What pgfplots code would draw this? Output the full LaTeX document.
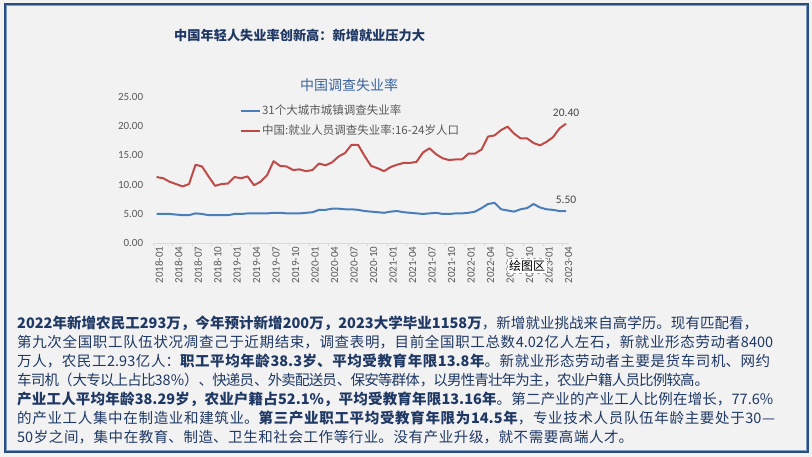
\documentclass[border=0pt]{standalone}
\usepackage{fontspec}
\usepackage{pgfplots}
\pgfplotsset{compat=1.18}
\setmainfont{Noto Sans CJK SC}
\newfontfamily\cjk{Noto Sans CJK SC}
\newfontfamily\carlito{Carlito}
\XeTeXlinebreaklocale "zh"
\XeTeXlinebreakskip=0pt plus 2pt minus 1pt
\definecolor{bgc}{HTML}{F2F2F2}
\definecolor{frame}{HTML}{2B4C7E}
\definecolor{frameL}{HTML}{7F9CC4}
\definecolor{ttl}{HTML}{1F3864}
\definecolor{ctl}{HTML}{3B64A0}
\definecolor{txt}{HTML}{1F3864}
\definecolor{lab}{HTML}{595959}
\definecolor{axc}{HTML}{D9D9D9}
\definecolor{bl}{HTML}{4A7EBB}
\definecolor{rd}{HTML}{BE4B48}
\newcommand{\jline}[2]{\parbox[b]{#1pt}{\tolerance=10000\parfillskip=0pt\relax #2}}
\begin{document}
\begin{tikzpicture}[x=1pt,y=1pt]
\useasboundingbox (0,0) rectangle (812,457);
\fill[bgc] (0,0) rectangle (812,457);
\draw[frame, line width=2.6pt] (4.8,4.8) rectangle (807.8,453);
\draw[frameL, line width=0.6pt] (6.6,6.6) rectangle (806,451.2);
% titles
\node[anchor=west, inner sep=0pt, text=ttl, font=\cjk\bfseries\fontsize{13.2}{15}\selectfont] at (174,422) {中国年轻人失业率创新高：新增就业压力大};
\node[anchor=west, inner sep=0pt, text=ctl, font=\cjk\fontsize{14}{16}\selectfont] at (300,372) {中国调查失业率};
\begin{axis}[
  at={(153.3pt,213.7pt)}, anchor=south west,
  scale only axis, width=416pt, height=146.6pt,
  xmin=-0.5, xmax=63.5, ymin=0, ymax=25,
  axis x line*=bottom, axis y line*=left,
  x axis line style={draw=axc, line width=0.8pt},
  y axis line style={draw=none},
  tick align=outside,
  major tick length=3pt, minor tick length=3pt,
  ytick={0,5,10,15,20,25},
  ytick style={draw=none},
  yticklabel={\pgfmathprintnumber[fixed,fixed zerofill,precision=2]{\tick}},
  yticklabel style={inner sep=0pt, xshift=-7pt, text=lab, font=\carlito\fontsize{11}{13}\selectfont},
  xtick={0,3,...,63},
  xticklabels={2018-01,2018-04,2018-07,2018-10,2019-01,2019-04,2019-07,2019-10,2020-01,2020-04,2020-07,2020-10,2021-01,2021-04,2021-07,2021-10,2022-01,2022-04,2022-07,2022-10,2023-01,2023-04},
  major x tick style={draw=none},
  minor xtick={-0.5,2.5,...,62.5},
  minor x tick style={draw=axc, line width=0.8pt},
  xticklabel style={rotate=90, anchor=east, inner sep=0pt, yshift=-2.6pt, text=lab, font=\carlito\fontsize{11}{13}\selectfont},
  /pgf/number format/assume math mode=true,
  legend style={at={(0.207,0.955)}, anchor=north west, draw=none, fill=none, inner sep=0pt,
    row sep=6pt, text=lab, font=\cjk\fontsize{11.5}{13}\selectfont,
    nodes={inner sep=1.5pt}},
  legend cell align=left,
  legend image code/.code={\draw[#1] (0pt,0pt) -- (19pt,0pt);},
  clip=false,
]
\addplot[bl, line width=2pt, line join=round] coordinates {
(0,5.0)(1,5.0)(2,5.0)(3,4.9)(4,4.8)(5,4.8)(6,5.1)(7,5.0)(8,4.8)(9,4.8)(10,4.8)(11,4.8)
(12,5.0)(13,5.0)(14,5.1)(15,5.1)(16,5.1)(17,5.1)(18,5.2)(19,5.2)(20,5.1)(21,5.1)(22,5.1)(23,5.2)
(24,5.3)(25,5.7)(26,5.7)(27,5.9)(28,5.9)(29,5.8)(30,5.8)(31,5.7)(32,5.5)(33,5.4)(34,5.3)(35,5.2)
(36,5.4)(37,5.5)(38,5.3)(39,5.2)(40,5.1)(41,5.0)(42,5.1)(43,5.2)(44,5.0)(45,5.0)(46,5.1)(47,5.1)
(48,5.2)(49,5.4)(50,6.0)(51,6.7)(52,6.9)(53,5.8)(54,5.6)(55,5.4)(56,5.8)(57,6.0)(58,6.7)(59,6.1)
(60,5.8)(61,5.7)(62,5.5)(63,5.5)};
\addlegendentry{31个大城市城镇调查失业率}
\addplot[rd, line width=2pt, line join=round] coordinates {
(0,11.3)(1,11.1)(2,10.5)(3,10.1)(4,9.7)(5,10.1)(6,13.4)(7,13.1)(8,11.4)(9,9.8)(10,10.1)(11,10.2)
(12,11.3)(13,11.1)(14,11.4)(15,9.9)(16,10.5)(17,11.6)(18,14.0)(19,13.2)(20,13.1)(21,12.5)(22,12.6)(23,12.3)
(24,12.5)(25,13.6)(26,13.3)(27,13.8)(28,14.8)(29,15.4)(30,16.8)(31,16.8)(32,14.9)(33,13.2)(34,12.8)(35,12.3)
(36,13.0)(37,13.4)(38,13.7)(39,13.7)(40,13.9)(41,15.5)(42,16.2)(43,15.2)(44,14.5)(45,14.2)(46,14.3)(47,14.3)
(48,15.3)(49,15.3)(50,16.0)(51,18.2)(52,18.4)(53,19.3)(54,19.9)(55,18.7)(56,17.9)(57,17.9)(58,17.1)(59,16.7)
(60,17.3)(61,18.1)(62,19.6)(63,20.4)};
\addlegendentry{中国:就业人员调查失业率:16-24岁人口}
\node[anchor=south, inner sep=0pt, yshift=7pt, text=lab!80!black, font=\carlito\fontsize{11.5}{13}\selectfont] at (axis cs:63,20.4) {20.40};
\node[anchor=south, inner sep=0pt, yshift=7pt, text=lab!80!black, font=\carlito\fontsize{11.5}{13}\selectfont] at (axis cs:63,5.5) {5.50};
\end{axis}
% tooltip artifact
\node[draw=gray!70, dashed, fill=white!95!bgc, inner sep=2pt, font=\cjk\fontsize{12}{14}\selectfont, text=black] at (527,191) {绘图区};
% paragraph
\begin{scope}[every node/.style={anchor=base west, inner sep=0pt, text=txt, font=\cjk\fontsize{14.5}{17}\selectfont}]
\node at (17,457-328.2) {\jline{741}{{\bfseries 2022年新增农民工293万，今年预计新增200万，2023大学毕业1158万}，新增就业挑战来自高学历。现有匹配看，}};
\node at (17,457-347.2) {\jline{756}{第九次全国职工队伍状况凋查己于近期结束，调查表明，目前全国职工总数4.02亿人左石，新就业形态劳动者8400}};
\node at (17,457-366.5) {\jline{753}{万人，农民工2.93亿人：{\bfseries 职工平均年龄38.3岁、平均受教育年限13.8年}。新就业形态劳动者主要是货车司机、网约}};
\node at (17,457-385.5) {\jline{692}{车司机（大专以上占比38\%）、快递员、外卖配送员、保安等群体，以男性青壮年为主，农业户籍人员比例较高。}};
\node at (17,457-404.8) {\jline{756}{{\bfseries 产业工人平均年龄38.29岁，农业户籍占52.1\%，平均受教育年限13.16年}。第二产业的产业工人比例在增长，77.6\%}};
\node at (17,457-423.5) {\jline{758}{的产业工人集中在制造业和建筑业。{\bfseries 第三产业职工平均受教育年限为14.5年}，专业技术人员队伍年龄主要处于30—}};
\node at (17,457-442.2) {\jline{616}{50岁之间，集中在教育、制造、卫生和社会工作等行业。没有产业升级，就不需要高端人才。}};
\end{scope}
\end{tikzpicture}
\end{document}
